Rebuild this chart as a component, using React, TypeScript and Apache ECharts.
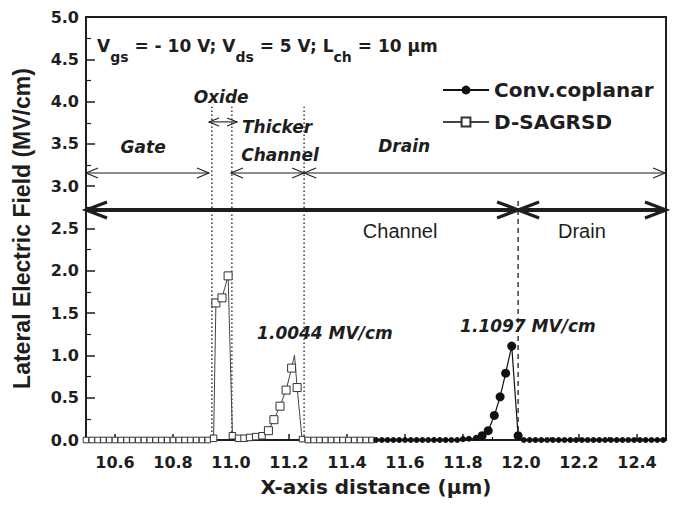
import React, { useEffect, useRef } from "react";
import * as echarts from "echarts";

// ---------------- data ----------------
const seriesNames = ["Conv.coplanar", "D-SAGRSD"];

const convData: [number, number][] = [
  [11.5, 0], [11.52, 0], [11.54, 0], [11.56, 0], [11.58, 0], [11.6, 0], [11.62, 0], [11.64, 0],
  [11.66, 0], [11.68, 0], [11.7, 0], [11.72, 0], [11.74, 0], [11.76, 0], [11.78, 0],
  [11.8, 0.01], [11.82, 0.015], [11.845, 0.025], [11.866, 0.05], [11.887, 0.11], [11.908, 0.29],
  [11.928, 0.51], [11.947, 0.79], [11.968, 1.1097], [11.99, 0.05],
  [12.01, 0], [12.03, 0], [12.05, 0], [12.07, 0], [12.09, 0], [12.11, 0], [12.13, 0], [12.15, 0],
  [12.17, 0], [12.19, 0], [12.21, 0], [12.23, 0], [12.25, 0], [12.27, 0], [12.29, 0], [12.31, 0],
  [12.33, 0], [12.35, 0], [12.37, 0], [12.39, 0], [12.41, 0], [12.43, 0], [12.45, 0], [12.47, 0],
  [12.49, 0],
];

const dsData: [number, number][] = [
  [10.5, 0], [10.52, 0], [10.54, 0], [10.56, 0], [10.58, 0], [10.6, 0], [10.62, 0], [10.64, 0],
  [10.66, 0], [10.68, 0], [10.7, 0], [10.72, 0], [10.74, 0], [10.76, 0], [10.78, 0], [10.8, 0],
  [10.82, 0], [10.84, 0], [10.86, 0], [10.88, 0], [10.9, 0], [10.92, 0],
  [10.94, 0.02], [10.948, 1.62], [10.969, 1.68], [10.99, 1.94], [11.005, 0.05],
  [11.026, 0.02], [11.045, 0.02], [11.064, 0.03], [11.085, 0.04], [11.107, 0.05],
  [11.129, 0.11], [11.148, 0.24], [11.169, 0.4], [11.19, 0.59], [11.209, 0.85],
  [11.219, 1.0044], [11.228, 0.62], [11.245, 0.01],
  [11.265, 0], [11.285, 0], [11.305, 0], [11.325, 0], [11.345, 0], [11.365, 0], [11.385, 0],
  [11.405, 0], [11.425, 0], [11.445, 0], [11.465, 0], [11.485, 0],
];
// peak vertex drawn without a marker
const dsUnmarkedX = [11.219];

// region arrows (data coordinates)
const arrows = [
  { x1: 10.5, x2: 10.924, y: 3.156, kind: "thin" },
  { x1: 10.924, x2: 11.021, y: 3.76, kind: "small" },
  { x1: 11.0, x2: 11.252, y: 3.156, kind: "thin" },
  { x1: 11.252, x2: 12.497, y: 3.156, kind: "thin" },
  { x1: 10.5, x2: 11.99, y: 2.72, kind: "thick" },
  { x1: 11.99, x2: 12.5, y: 2.72, kind: "thick" },
];

// boundary guide lines
const guides = [
  { x: 10.934, y0: 0, y1: 3.94, kind: "dot" },
  { x: 11.003, y0: 0, y1: 3.94, kind: "dot" },
  { x: 11.252, y0: 0, y1: 3.94, kind: "dot" },
  { x: 11.99, y0: 0, y1: 2.84, kind: "dash" },
];

// text annotations
const notes = [
  { text: "Oxide", x: 10.966, y: 4.05, kind: "it", align: "center" },
  { text: "Gate", x: 10.697, y: 3.46, kind: "it", align: "center" },
  { text: "Thicker", x: 11.159, y: 3.7, kind: "it", align: "center" },
  { text: "Channel", x: 11.169, y: 3.37, kind: "it", align: "center" },
  { text: "Drain", x: 11.597, y: 3.475, kind: "it", align: "center" },
  { text: "Channel", x: 11.583, y: 2.47, kind: "reg", align: "center" },
  { text: "Drain", x: 12.21, y: 2.47, kind: "reg", align: "center" },
  { text: "1.0044 MV/cm", x: 11.09, y: 1.26, kind: "it", align: "left" },
  { text: "1.1097 MV/cm", x: 11.79, y: 1.35, kind: "it", align: "left" },
  {
    text: "{m|V}{s|gs}{m| = - 10 V; V}{s|ds}{m| = 5 V; L}{s|ch}{m| = 10 μm}",
    x: 10.538, y: 4.6, kind: "cond", align: "left",
  },
];

const INK = "#1e1e1e";
const BOLD_FONT = "'DejaVu Sans', sans-serif";

export default function App() {
  const ref = useRef<HTMLDivElement>(null);

  useEffect(() => {
    if (!ref.current) return;
    const chart = echarts.init(ref.current, undefined, { renderer: "svg" });

    const dsSeriesData = dsData.map(([x, y]) =>
      dsUnmarkedX.includes(x) ? { value: [x, y], symbol: "none" } : [x, y]
    );

    const option: any = {
      animation: false,
      backgroundColor: "#fff",
      grid: {
        left: 86, right: 13, top: 17, bottom: 65,
        show: true, borderColor: INK, borderWidth: 2, backgroundColor: "transparent",
      },
      legend: {
        data: seriesNames,
        orient: "vertical",
        left: 437,
        top: 73,
        itemWidth: 46,
        itemHeight: 11,
        itemGap: 8,
        textStyle: { fontFamily: BOLD_FONT, fontWeight: "bold", fontSize: 20, color: INK, lineHeight: 24 },
      },
      xAxis: {
        type: "value",
        min: 10.5,
        max: 12.5,
        splitNumber: 10,
        name: "X-axis distance (μm)",
        nameLocation: "middle",
        nameGap: 37,
        nameTextStyle: { fontFamily: BOLD_FONT, fontWeight: "bold", fontSize: 20, color: INK },
        axisLine: { show: true, lineStyle: { color: INK, width: 2 } },
        axisTick: { show: true, inside: true, length: 6, lineStyle: { color: INK, width: 1.5 } },
        minorTick: { show: true, splitNumber: 2, length: 3, lineStyle: { color: INK, width: 1.2 } },
        splitLine: { show: false },
        axisLabel: {
          showMinLabel: false, showMaxLabel: false, margin: 14,
          fontFamily: BOLD_FONT, fontWeight: "bold", fontSize: 16, color: INK,
          formatter: (v: number) => v.toFixed(1),
        },
      },
      yAxis: {
        type: "value",
        min: 0,
        max: 5,
        interval: 0.5,
        name: "Lateral Electric Field (MV/cm)",
        nameLocation: "middle",
        nameGap: 53,
        nameTextStyle: { fontFamily: "'Liberation Sans', Arial, sans-serif", fontWeight: "bold", fontSize: 23, color: INK },
        axisLine: { show: true, lineStyle: { color: INK, width: 2 } },
        axisTick: { show: true, inside: true, length: 9, lineStyle: { color: INK, width: 1.5 } },
        minorTick: { show: true, splitNumber: 2, length: 5, lineStyle: { color: INK, width: 1.2 } },
        splitLine: { show: false },
        axisLabel: {
          margin: 7,
          fontFamily: BOLD_FONT, fontWeight: "bold", fontSize: 16, color: INK,
          formatter: (v: number) => v.toFixed(1),
        },
      },
      series: [
        {
          name: seriesNames[1],
          type: "line",
          data: dsSeriesData,
          symbol: "rect",
          symbolSize: (val: number[]) => (val[1] < 0.015 ? 5.6 : val[1] < 0.08 ? 6.5 : 8),
          showAllSymbol: true,
          lineStyle: { color: "#444", width: 1 },
          itemStyle: { color: "#fff", borderColor: "#333", borderWidth: 1 },
          z: 3,
        },
        {
          name: seriesNames[0],
          type: "line",
          data: convData,
          symbol: "circle",
          symbolSize: (val: number[]) => (val[1] < 0.03 ? 6 : 9),
          showAllSymbol: true,
          lineStyle: { color: "#111", width: 1.2 },
          itemStyle: { color: "#111", borderColor: "#111", borderWidth: 0 },
          z: 4,
        },
        {
          type: "custom",
          name: "guides",
          data: guides.map((g, i) => [g.x, g.y1, i]),
          encode: { x: 0, y: 1 },
          silent: true,
          z: 2,
          renderItem: (params: any, api: any) => {
            const g = guides[params.dataIndex];
            const a = api.coord([g.x, g.y0]);
            const b = api.coord([g.x, g.y1]);
            return {
              type: "line",
              shape: { x1: a[0], y1: a[1], x2: b[0], y2: b[1] },
              style: {
                stroke: INK,
                lineWidth: 1.3,
                lineDash: g.kind === "dot" ? [1.5, 2.5] : [5, 4],
              },
            };
          },
        },
        {
          type: "custom",
          name: "arrows",
          data: arrows.map((a, i) => [a.x1, a.y, i]),
          encode: { x: 0, y: 1 },
          silent: true,
          z: 5,
          renderItem: (params: any, api: any) => {
            const a = arrows[params.dataIndex];
            const p1 = api.coord([a.x1, a.y]);
            const p2 = api.coord([a.x2, a.y]);
            const L = a.kind === "thick" ? 21 : a.kind === "small" ? 10 : 12;
            const H = a.kind === "thick" ? 8 : a.kind === "small" ? 4 : 5;
            const lw = a.kind === "thick" ? 4 : 1.1;
            const hw = a.kind === "thick" ? 3.2 : 1.1;
            return {
              type: "group",
              children: [
                {
                  type: "line",
                  shape: { x1: p1[0], y1: p1[1], x2: p2[0], y2: p2[1] },
                  style: { stroke: INK, lineWidth: lw },
                },
                {
                  type: "polyline",
                  shape: { points: [[p1[0] + L, p1[1] - H], [p1[0], p1[1]], [p1[0] + L, p1[1] + H]] },
                  style: { stroke: INK, lineWidth: hw, fill: null },
                },
                {
                  type: "polyline",
                  shape: { points: [[p2[0] - L, p2[1] - H], [p2[0], p2[1]], [p2[0] - L, p2[1] + H]] },
                  style: { stroke: INK, lineWidth: hw, fill: null },
                },
              ],
            };
          },
        },
        {
          type: "custom",
          name: "notes",
          data: notes.map((n, i) => [n.x, n.y, i]),
          encode: { x: 0, y: 1 },
          silent: true,
          z: 6,
          renderItem: (params: any, api: any) => {
            const n = notes[params.dataIndex];
            const p = api.coord([n.x, n.y]);
            const base: any = {
              text: n.text,
              fill: INK,
              align: n.align,
              verticalAlign: "middle",
            };
            if (n.kind === "it") {
              Object.assign(base, { fontFamily: BOLD_FONT, fontWeight: "bold", fontStyle: "italic", fontSize: 17 });
            } else if (n.kind === "reg") {
              Object.assign(base, { fontFamily: "'Liberation Sans', Arial, sans-serif", fontWeight: "normal", fontSize: 20 });
            } else {
              Object.assign(base, {
                fontFamily: BOLD_FONT, fontWeight: "bold", fontSize: 17,
                rich: {
                  m: { fontFamily: BOLD_FONT, fontWeight: "bold", fontSize: 17, fill: INK, lineHeight: 26, verticalAlign: "top" },
                  s: { fontFamily: BOLD_FONT, fontWeight: "bold", fontSize: 14, fill: INK, lineHeight: 13, verticalAlign: "bottom" },
                },
              });
            }
            return { type: "text", x: p[0], y: p[1], style: base };
          },
        },
      ],
    };

    chart.setOption(option);
    return () => chart.dispose();
  }, []);

  return (
    <div
      ref={ref}
      style={{ position: "fixed", left: 0, top: 0, width: 679, height: 505, background: "#fff" }}
    />
  );
}
